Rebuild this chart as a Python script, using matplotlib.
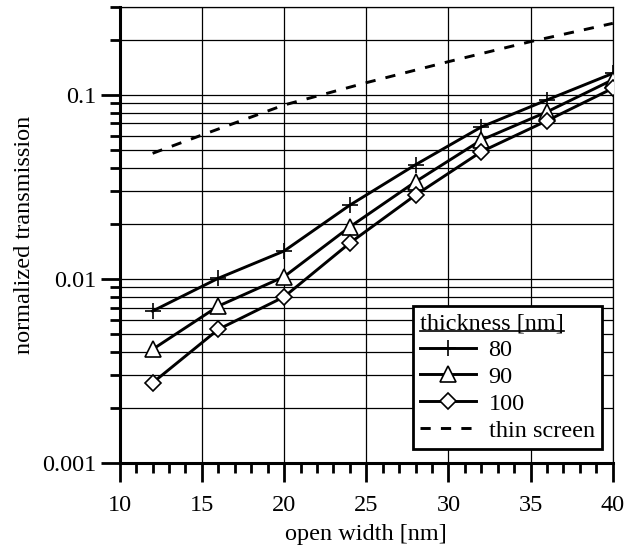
import matplotlib
matplotlib.use("Agg")
import matplotlib.pyplot as plt
from matplotlib.lines import Line2D
from matplotlib.ticker import LogLocator, NullFormatter, FixedLocator, MultipleLocator

plt.rcParams['font.family'] = ['Liberation Serif', 'DejaVu Serif']

width = [12, 16, 20, 24, 28, 32, 36, 40]
t80 = [0.0067, 0.0101, 0.0142, 0.0252, 0.0418, 0.067, 0.094, 0.131]
t90 = [0.00415, 0.00713, 0.0103, 0.0192, 0.0338, 0.0569, 0.081, 0.121]
t100 = [0.00273, 0.00533, 0.0080, 0.0157, 0.0286, 0.0492, 0.0725, 0.1087]
thin_x = [12, 15, 20, 25, 30, 35, 40]
thin_y = [0.0482, 0.0606, 0.0882, 0.1166, 0.1517, 0.195, 0.245]

FS = 17.5
fig = plt.figure(figsize=(6.37, 5.50), dpi=100)
ax = fig.add_axes([0.188, 0.158, 0.774, 0.829])
ax.set_yscale('log')
ax.set_xlim(10, 40)
ax.set_ylim(0.001, 0.3)

lw = 2.1
ax.plot(width, t80, color='black', lw=lw, marker='+', ms=12, mew=1.2, label='80', zorder=3)
ax.plot(width, t90, color='black', lw=lw, marker='^', ms=12, mew=1.2, mfc='white', label='90', zorder=3)
ax.plot(width, t100, color='black', lw=lw, marker='D', ms=8.5, mew=1.2, mfc='white', label='100', zorder=3)
ax.plot(thin_x, thin_y, color='black', lw=lw, dashes=(3.5, 3.5), label='thin screen', zorder=3)

# ticks
ax.xaxis.set_major_locator(MultipleLocator(5))
ax.xaxis.set_minor_locator(MultipleLocator(1))
ax.yaxis.set_major_locator(FixedLocator([0.001, 0.01, 0.1]))
ax.set_yticklabels(['0.001', '0.01', '0.1'])
ax.yaxis.set_minor_locator(LogLocator(base=10, subs=range(2, 10)))
ax.yaxis.set_minor_formatter(NullFormatter())
ax.tick_params(which='major', direction='out', length=14, width=2, labelsize=FS)
ax.tick_params(axis='x', which='major', pad=9)
ax.tick_params(axis='y', which='major', pad=3)
ax.tick_params(which='minor', direction='out', length=7, width=2)

# grid
ax.grid(True, which='major', axis='x', color='black', lw=0.9)
ax.grid(True, which='both', axis='y', color='black', lw=0.9)
ax.set_axisbelow(True)

for s in ['left', 'bottom']:
    ax.spines[s].set_linewidth(2.2)
for s in ['top', 'right']:
    ax.spines[s].set_linewidth(0.9)

ax.set_xlabel('open width [nm]', fontsize=FS, labelpad=6)
ax.set_ylabel('normalized transmission', fontsize=FS, labelpad=5)

leg = ax.legend(title='thickness [nm]', loc='lower right', bbox_to_anchor=(0.978, 0.031),
                borderaxespad=0, fontsize=FS, title_fontsize=FS, fancybox=False,
                framealpha=1, edgecolor='black', handlelength=2.3, handletextpad=0.5,
                labelspacing=0.2, borderpad=0.3, alignment='left')
leg.get_frame().set_linewidth(2.0)

fig.canvas.draw()
bb = leg.get_title().get_window_extent()
inv = fig.transFigure.inverted()
(x0, y0), (x1, y1) = inv.transform([[bb.x0, bb.y0], [bb.x1, bb.y0]])
fig.add_artist(Line2D([x0, x1], [y0 + 0.006, y0 + 0.006], color='black', lw=1.2,
                      transform=fig.transFigure, zorder=10))

fig.savefig('out.png', dpi=100)
